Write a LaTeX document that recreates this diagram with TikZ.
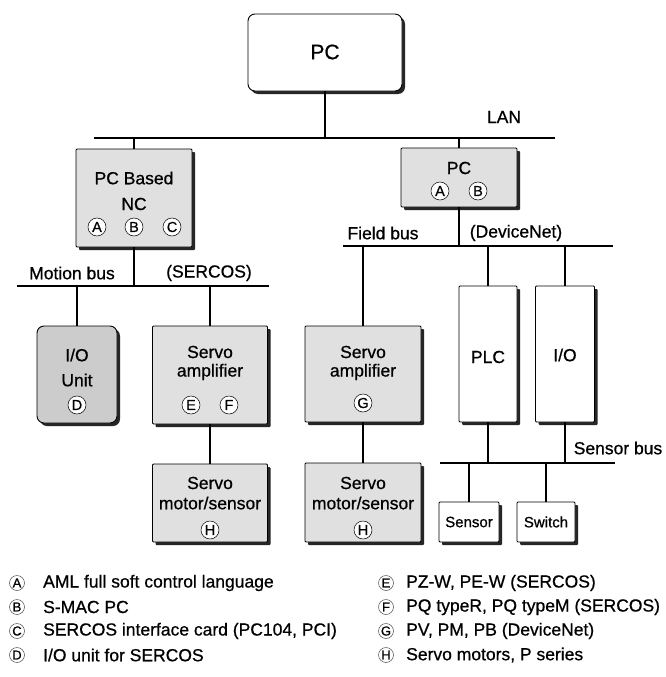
\documentclass[tikz,border=0pt]{standalone}
\usepackage{fontspec}
\newfontfamily\medfont{Liberation Sans}[FakeBold=0.7]
\setmainfont{Liberation Sans}
\usetikzlibrary{shadows}
\newcommand{\fsz}{\medfont\fontsize{17.5}{20}\selectfont}
\definecolor{gA}{gray}{0.88}
\definecolor{gB}{gray}{0.80}
\begin{document}
\begin{tikzpicture}[x=1pt,y=-1pt,
  bx/.style={draw, line width=0.9pt, inner sep=0pt, rounded corners=1pt,
    drop shadow={shadow xshift=3pt,shadow yshift=-3pt,fill=black!85,opacity=1}},
  lbl/.style={inner sep=0pt, font=\fsz},
  cl/.style={draw, circle, line width=0.5pt, fill=white, inner sep=0pt, minimum size=18pt, font=\medfont\fontsize{14.5}{14.5}\selectfont},
  lcl/.style={draw=black!70, circle, line width=0.5pt, inner sep=0pt, minimum size=15pt, font=\medfont\fontsize{13}{13}\selectfont},
  leg/.style={inner sep=0pt, anchor=west, font=\fsz},
  bus/.style={line width=2.4pt},
  wire/.style={line width=1.2pt}]
\useasboundingbox (0,0) rectangle (665,677);
\fill[white] (0,0) rectangle (665,677);

% ---- boxes ----
\node[bx, rounded corners=7pt, fill=white, minimum width=154pt, minimum height=77pt] (pc) at (325,52.5) {};
\node[bx, fill=gA, minimum width=116pt, minimum height=98pt] (nc) at (134,198) {};
\node[bx, fill=gA, minimum width=116pt, minimum height=59pt] (pc2) at (459,177.5) {};
\node[bx, rounded corners=7pt, fill=gB, minimum width=80pt, minimum height=97pt] (iou) at (77,374.5) {};
\node[bx, fill=gA, minimum width=115pt, minimum height=98pt] (sa1) at (210,375) {};
\node[bx, fill=gA, minimum width=115pt, minimum height=78pt] (sm1) at (210,503) {};
\node[bx, fill=gA, minimum width=116pt, minimum height=96pt] (sa2) at (363,374) {};
\node[bx, fill=gA, minimum width=116pt, minimum height=79pt] (sm2) at (363,502.5) {};
\node[bx, fill=white, minimum width=58pt, minimum height=136pt] (plc) at (488,354) {};
\node[bx, fill=white, minimum width=59pt, minimum height=136pt] (io) at (565,354) {};
\node[bx, fill=white, minimum width=60pt, minimum height=40pt] (sen) at (469,522) {};
\node[bx, fill=white, minimum width=58pt, minimum height=40pt] (swi) at (546,522) {};

% ---- buses ----
\coordinate (lanL) at (94,138);  \coordinate (lanR) at (555,138);
\coordinate (motL) at (17,286);  \coordinate (motR) at (269,286);
\coordinate (fldL) at (343,246); \coordinate (fldR) at (613,246);
\coordinate (senL) at (440,463); \coordinate (senR) at (615,463);
\draw[bus] (lanL) -- (lanR);
\draw[bus] (motL) -- (motR);
\draw[bus] (fldL) -- (fldR);
\draw[bus] (senL) -- (senR);

% ---- taps ----
\coordinate (t0) at (325,138);
\coordinate (t1) at (134,138);
\coordinate (t2) at (459,138);
\coordinate (t3) at (134,286);
\coordinate (t4) at (77,286);
\coordinate (t5) at (210,286);
\coordinate (t6) at (459,246);
\coordinate (t7) at (363,246);
\coordinate (t8) at (488,246);
\coordinate (t9) at (565,246);
\coordinate (t10) at (488,463);
\coordinate (t11) at (565,463);
\coordinate (t12) at (469,463);
\coordinate (t13) at (546,463);

\draw[wire] (pc.south) -- (t0);
\draw[wire] (t1) -- (nc.north);
\draw[wire] (t2) -- (pc2.north);
\draw[wire] (nc.south) -- (t3);
\draw[wire] (t4) -- (iou.north);
\draw[wire] (t5) -- (sa1.north);
\draw[wire] (sa1.south) -- (sm1.north);
\draw[wire] (pc2.south) -- (t6);
\draw[wire] (t7) -- (sa2.north);
\draw[wire] (t8) -- (plc.north);
\draw[wire] (t9) -- (io.north);
\draw[wire] (sa2.south) -- (sm2.north);
\draw[wire] (plc.south) -- (t10);
\draw[wire] (io.south) -- (t11);
\draw[wire] (t12) -- (sen.north);
\draw[wire] (t13) -- (swi.north);

% ---- bus labels ----
\node[lbl] (lanlab) at (504,117) {LAN};
\node[lbl] (motlab) at (72,273) {Motion bus};
\node[lbl] (serlab) at (209,273) {(SERCOS)};
\node[lbl] (fldlab) at (383,233) {Field bus};
\node[lbl] (dnlab) at (516,233) {(DeviceNet)};
\node[lbl] (snblab) at (618,448) {Sensor bus};

% ---- box texts ----
\node[lbl, font=\medfont\fontsize{21}{24}\selectfont] (pct) at (325,52) {PC};
\node[lbl] (nct1) at (134,178) {PC Based};
\node[lbl] (nct2) at (134,204) {NC};
\node[cl] (ncA) at (97,227) {A};
\node[cl] (ncB) at (134,227) {B};
\node[cl] (ncC) at (172,227) {C};
\node[lbl] (pc2t) at (459,168) {PC};
\node[cl] (pc2A) at (440,191) {A};
\node[cl] (pc2B) at (478,191) {B};
\node[lbl] (iot1) at (77,355) {I/O};
\node[lbl] (iot2) at (77,380) {Unit};
\node[cl] (iouD) at (77,405) {D};
\node[lbl] (sa1t1) at (210,352) {Servo};
\node[lbl] (sa1t2) at (210,372) {amplifier};
\node[cl] (sa1E) at (191,405) {E};
\node[cl] (sa1F) at (229,405) {F};
\node[lbl] (sm1t1) at (210,483) {Servo};
\node[lbl] (sm1t2) at (210,503) {motor/sensor};
\node[cl] (sm1H) at (210,530) {H};
\node[lbl] (sa2t1) at (363,352) {Servo};
\node[lbl] (sa2t2) at (363,372) {amplifier};
\node[cl] (sa2G) at (363,403) {G};
\node[lbl] (sm2t1) at (363,483) {Servo};
\node[lbl] (sm2t2) at (363,503) {motor/sensor};
\node[cl] (sm2H) at (363,530) {H};
\node[lbl] (plct) at (488,357) {PLC};
\node[lbl] (iot) at (565,355) {I/O};
\node[lbl, font=\medfont\fontsize{15}{17}\selectfont] (sent) at (469,522) {Sensor};
\node[lbl, font=\medfont\fontsize{15}{17}\selectfont] (swit) at (546,522) {Switch};

% ---- legend ----
\node[lcl] (lA) at (17,583) {A};
\node[leg] (lAt) at (43,583) {AML full soft control language};
\node[lcl] (lB) at (17,607) {B};
\node[leg] (lBt) at (43,607) {S-MAC PC};
\node[lcl] (lC) at (17,631) {C};
\node[leg] (lCt) at (43,631) {SERCOS interface card (PC104, PCI)};
\node[lcl] (lD) at (17,655) {D};
\node[leg] (lDt) at (43,655) {I/O unit for SERCOS};
\node[lcl] (lE) at (386,583) {E};
\node[leg] (lEt) at (406,583) {PZ-W, PE-W (SERCOS)};
\node[lcl] (lF) at (386,607) {F};
\node[leg] (lFt) at (406,607) {PQ typeR, PQ typeM (SERCOS)};
\node[lcl] (lG) at (386,631) {G};
\node[leg] (lGt) at (406,631) {PV, PM, PB (DeviceNet)};
\node[lcl] (lH) at (386,655) {H};
\node[leg] (lHt) at (406,655) {Servo motors, P series};
\end{tikzpicture}
\end{document}
